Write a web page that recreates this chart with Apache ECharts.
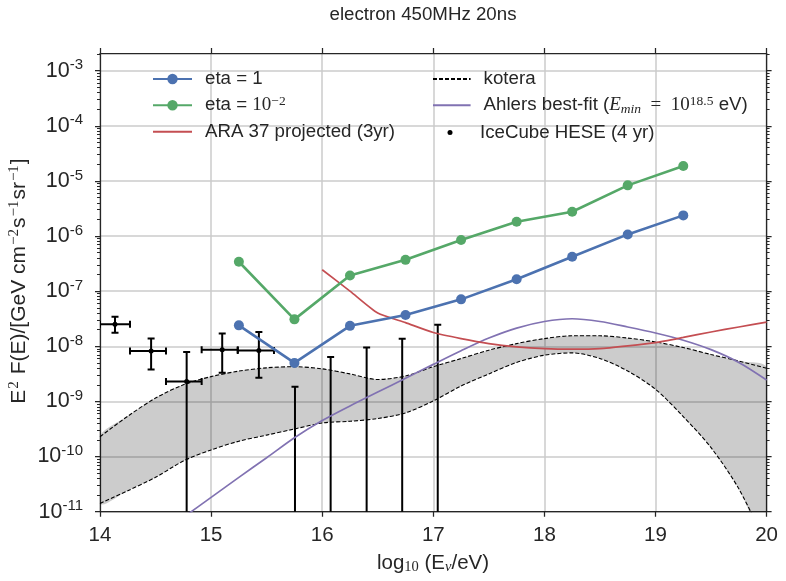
<!DOCTYPE html>
<html>
<head>
<meta charset="utf-8">
<script src="https://cdn.jsdelivr.net/npm/echarts@6/dist/echarts.min.js"></script>
<style>html,body{margin:0;padding:0;background:#fff;}#chart{width:786px;height:581px;}</style>
</head>
<body>
<div id="chart"></div>
<script>
// ---- data (energies are log10(E/eV), fluxes are E^2 F(E) in GeV cm^-2 s^-1 sr^-1) ----
const xTicks = [14, 15, 16, 17, 18, 19, 20];
const yExponents = [-11, -10, -9, -8, -7, -6, -5, -4, -3];

const etaE = [15.25, 15.75, 16.25, 16.75, 17.25, 17.75, 18.25, 18.75, 19.25];
const eta1 = [2.4e-8, 5.0e-9, 2.35e-8, 3.7e-8, 7.1e-8, 1.64e-7, 4.2e-7, 1.07e-6, 2.37e-6];
const eta2 = [3.42e-7, 3.08e-8, 1.93e-7, 3.7e-7, 8.45e-7, 1.82e-6, 2.76e-6, 8.3e-6, 1.86e-5];

const araE = [16.0, 16.25, 16.5, 16.75, 17.0, 17.25, 17.5, 17.75, 18.0, 18.25, 18.5, 18.75, 19.0, 19.25, 19.5, 19.75, 20.0];
const araFlux = [2.45e-7, 1.0e-7, 4.0e-8, 2.69e-8, 1.78e-8, 1.38e-8, 1.12e-8, 9.8e-9, 9.1e-9, 8.9e-9, 9.1e-9, 1.02e-8, 1.17e-8, 1.45e-8, 1.82e-8, 2.24e-8, 2.75e-8];

const ahlersE = [14.5, 14.75, 15.0, 15.25, 15.5, 15.75, 16.0, 16.25, 16.5, 16.75, 17.0, 17.25, 17.5, 17.75, 18.0, 18.25, 18.5, 18.75, 19.0, 19.25, 19.5, 19.75, 20.0];
const ahlersFlux = [3.5e-12, 7.9e-12, 1.82e-11, 4.2e-11, 9.5e-11, 2.19e-10, 4.5e-10, 8.3e-10, 1.48e-9, 2.63e-9, 4.7e-9, 8.3e-9, 1.41e-8, 2.14e-8, 2.82e-8, 3.16e-8, 2.82e-8, 2.24e-8, 1.74e-8, 1.29e-8, 8.7e-9, 5.1e-9, 2.45e-9];

const koteraE = [14.0, 14.25, 14.5, 14.75, 15.0, 15.25, 15.5, 15.75, 16.0, 16.25, 16.5, 16.75, 17.0, 17.25, 17.5, 17.75, 18.0, 18.25, 18.5, 18.75, 19.0, 19.25, 19.5, 19.75, 20.0];
const koteraHigh = [2.29e-10, 5.4e-10, 1.15e-9, 2.0e-9, 2.82e-9, 3.55e-9, 4.07e-9, 4.27e-9, 3.9e-9, 3.16e-9, 2.5e-9, 2.9e-9, 4.27e-9, 6.0e-9, 8.5e-9, 1.12e-8, 1.38e-8, 1.55e-8, 1.55e-8, 1.41e-8, 1.2e-8, 9.5e-9, 7.1e-9, 5.4e-9, 4.0e-9];
const koteraLow = [1.41e-11, 2.4e-11, 4.2e-11, 8.3e-11, 1.32e-10, 1.9e-10, 2.45e-10, 3.16e-10, 4.07e-10, 4.37e-10, 4.9e-10, 6.2e-10, 1.02e-9, 1.9e-9, 3.16e-9, 5.1e-9, 6.9e-9, 7.6e-9, 6.0e-9, 3.55e-9, 1.66e-9, 5.3e-10, 1.45e-10, 2.6e-11, 2.5e-12];

// IceCube HESE (4 yr): null flux = upper limit only
const heseE = [14.135, 14.46, 14.78, 15.10, 15.43, 15.755, 16.076, 16.40, 16.72, 17.04];
const heseFlux = [2.5e-8, 8.2e-9, 2.3e-9, 8.7e-9, 8.4e-9, null, null, null, null, null];
const heseHigh = [3.43e-8, 1.39e-8, 7.9e-9, 1.71e-8, 1.82e-8, 1.84e-9, 6.4e-9, 9.5e-9, 1.37e-8, 2.45e-8];
const heseLow = [1.76e-8, 3.8e-9, 0, 3.3e-9, 2.7e-9, 0, 0, 0, 0, 0];
const heseXLow = [14.0, 14.27, 14.594, 14.915, 15.24, null, null, null, null, null];
const heseXHigh = [14.27, 14.594, 14.915, 15.24, 15.566, null, null, null, null, null];

// ---- helpers ----
const lg = Math.log10;
const Y_MIN = -11, Y_MAX = -2.68;
const minorTicks = [];
for (let n = -12; n <= -3; n++) for (let k = 2; k <= 9; k++) {
  const v = n + lg(k);
  if (v > Y_MIN && v < Y_MAX) minorTicks.push(v);
}
const TXT = '#262626';
const SANS = 'Liberation Sans';
const SERIF = 'Liberation Serif';
const SMOOTH = 0.3;

const heseData = heseE.map((e, i) => {
  const has = heseFlux[i] != null;
  return [e, lg(heseHigh[i]), heseLow[i] > 0 ? lg(heseLow[i]) : -14,
          has ? lg(heseFlux[i]) : lg(heseHigh[i]),
          has ? heseXLow[i] : e, has ? heseXHigh[i] : e, has ? 1 : 0, heseLow[i] > 0 ? 1 : 0];
});
const koteraBand = koteraE.map((e, i) => [e, lg(koteraLow[i]), lg(koteraHigh[i])]);

const axisLineStyle = { color: TXT, width: 1.25 };
const legendRich = {
  t: { fontSize: 18.7, fontFamily: SANS, color: TXT, lineHeight: 22, verticalAlign: 'middle' },
  m: { fontSize: 19, fontFamily: SERIF, color: TXT, lineHeight: 22, verticalAlign: 'middle' },
  mi: { fontSize: 19, fontFamily: SERIF, fontStyle: 'italic', color: TXT, lineHeight: 22, verticalAlign: 'middle' },
  ms: { fontSize: 13.5, fontFamily: SERIF, color: TXT, lineHeight: 10, verticalAlign: 'top' },
  sub: { fontSize: 13.5, fontFamily: SERIF, fontStyle: 'italic', color: TXT, lineHeight: 13, verticalAlign: 'bottom' }
};
const legendLabels = {
  'eta = 1': '{t|eta = 1}',
  'eta = 1e-2': '{t|eta = }{m|10}{ms|−2}',
  'ARA 37 projected (3yr)': '{t|ARA 37 projected (3yr)}',
  'kotera': '{t|kotera}',
  'Ahlers': '{t|Ahlers best-fit (}{mi|E}{sub|min}{m|  =  10}{ms|18.5}{t| eV)}',
  'IceCube HESE (4 yr)': '{t|IceCube HESE (4 yr)}'
};
function mkLegend(item, left, cy, w, extra) {
  return Object.assign({
    data: [item], left: left, top: cy - 11, padding: 0, orient: 'vertical',
    itemWidth: w, itemHeight: 13, selectedMode: false,
    formatter: n => legendLabels[n],
    textStyle: { fontSize: 18.7, fontFamily: SANS, color: TXT, lineHeight: 22, padding: [0, 0, 0, 8], rich: legendRich }
  }, extra || {});
}
const noSym = { opacity: 0 };

const option = {
  animation: false,
  backgroundColor: '#fff',
  title: {
    text: 'electron 450MHz 20ns', left: 423, top: 4, padding: 0, textAlign: 'center',
    textStyle: { fontSize: 18.7, fontWeight: 'normal', fontFamily: SANS, color: TXT, lineHeight: 22 }
  },
  grid: { left: 100, right: 19.4, top: 53, bottom: 69.3 },
  legend: [
    mkLegend('eta = 1', 152, 79, 39),
    mkLegend('eta = 1e-2', 152, 105.3, 39),
    mkLegend({ name: 'ARA 37 projected (3yr)', itemStyle: noSym }, 152, 131.7, 39),
    mkLegend({ name: 'kotera', itemStyle: noSym }, 432, 79, 37.6),
    mkLegend({ name: 'Ahlers', itemStyle: noSym }, 432, 105.3, 37.6),
    mkLegend({ name: 'IceCube HESE (4 yr)', icon: 'circle' }, 447.5, 132.5, 5,
      { itemHeight: 5, textStyle: { fontSize: 18.7, fontFamily: SANS, color: TXT, lineHeight: 22, padding: [0, 0, 0, 22.5], rich: legendRich } })
  ],
  xAxis: [
    { type: 'value', min: xTicks[0], max: xTicks[xTicks.length - 1], interval: 1, position: 'bottom',
      axisLine: { show: true, onZero: false, lineStyle: axisLineStyle },
      axisTick: { show: true, length: 5, lineStyle: axisLineStyle },
      axisLabel: { fontSize: 20.5, fontFamily: SANS, color: TXT, margin: 13 },
      splitLine: { show: true, lineStyle: { color: '#cbcbcb', width: 1.5 } } },
    { type: 'value', min: xTicks[0], max: xTicks[xTicks.length - 1], interval: 1, position: 'top',
      axisLine: { show: true, onZero: false, lineStyle: axisLineStyle },
      axisTick: { show: true, length: 5, lineStyle: axisLineStyle },
      axisLabel: { show: false }, splitLine: { show: false } }
  ],
  yAxis: [
    { type: 'value', min: Y_MIN, max: Y_MAX, interval: 1, position: 'left',
      axisLine: { show: true, onZero: false, lineStyle: axisLineStyle },
      axisTick: { show: true, length: 5, lineStyle: axisLineStyle, customValues: yExponents },
      axisLabel: { customValues: yExponents, margin: 17, align: 'right', verticalAlign: 'middle',
        formatter: v => '{b|10}{s|' + Math.round(v) + '}',
        rich: {
          b: { fontSize: 21.5, fontFamily: SANS, color: TXT, lineHeight: 26, verticalAlign: 'middle' },
          s: { fontSize: 15, fontFamily: SANS, color: TXT, lineHeight: 16, verticalAlign: 'top' }
        } },
      splitLine: { show: true, lineStyle: { color: '#cbcbcb', width: 1.5 } } },
    { type: 'value', min: Y_MIN, max: Y_MAX, position: 'left',
      axisLine: { show: false }, axisLabel: { show: false }, splitLine: { show: false },
      axisTick: { show: true, length: 3, lineStyle: { color: TXT, width: 1 }, customValues: minorTicks } },
    { type: 'value', min: Y_MIN, max: Y_MAX, position: 'right',
      axisLine: { show: true, onZero: false, lineStyle: axisLineStyle }, axisLabel: { show: false }, splitLine: { show: false },
      axisTick: { show: true, length: 5, lineStyle: axisLineStyle, customValues: yExponents } },
    { type: 'value', min: Y_MIN, max: Y_MAX, position: 'right',
      axisLine: { show: false }, axisLabel: { show: false }, splitLine: { show: false },
      axisTick: { show: true, length: 3, lineStyle: { color: TXT, width: 1 }, customValues: minorTicks } }
  ],
  graphic: [
    { type: 'text', x: 433, y: 563, silent: true,
      style: { text: '{a|log}{b|10}{a| (E}{c|ν}{a|/eV)}', align: 'center', verticalAlign: 'middle',
        rich: {
          a: { fontSize: 20.5, fontFamily: SANS, fill: TXT, color: TXT, lineHeight: 24, verticalAlign: 'middle' },
          b: { fontSize: 14.5, fontFamily: SERIF, fill: TXT, color: TXT, lineHeight: 14, verticalAlign: 'bottom' },
          c: { fontSize: 14.5, fontFamily: SERIF, fontStyle: 'italic', fill: TXT, color: TXT, lineHeight: 14, verticalAlign: 'bottom' }
        } } },
    { type: 'text', x: 19, y: 281, rotation: Math.PI / 2, silent: true,
      style: { text: '{a|E}{s|2}{a| F(E)/[GeV cm}{s|−2}{a|s}{s|−1}{a|sr}{s|−1}{a|]}', align: 'center', verticalAlign: 'middle',
        rich: {
          a: { fontSize: 21, fontFamily: SANS, fill: TXT, color: TXT, lineHeight: 24, verticalAlign: 'middle' },
          s: { fontSize: 15, fontFamily: SERIF, fill: TXT, color: TXT, lineHeight: 12, verticalAlign: 'top', padding: [0, 1, 0, 1] }
        } } }
  ],
  series: [
    { type: 'custom', name: 'koteraBand', data: koteraBand, clip: true, silent: true, encode: { x: 0, y: [1, 2] },
      renderItem: function (params, api) {
        if (params.dataIndex !== 0) return null;
        const up = koteraBand.map(d => api.coord([d[0], d[2]]));
        const lo = koteraBand.map(d => api.coord([d[0], d[1]])).reverse();
        return { type: 'polygon', shape: { points: up.concat(lo), smooth: SMOOTH },
          style: { fill: 'rgba(0,0,0,0.2)', stroke: null } };
      } },
    { type: 'line', name: 'koteraLow', data: koteraBand.map(d => [d[0], d[1]]),
      symbol: 'none', smooth: SMOOTH, silent: true,
      lineStyle: { color: '#000', width: 1.1, type: [4, 2] } },
    { type: 'line', name: 'kotera', data: koteraBand.map(d => [d[0], d[2]]),
      symbol: 'none', smooth: SMOOTH, silent: true, itemStyle: { color: '#000' },
      lineStyle: { color: '#000', width: 1.1, type: [4, 2] } },
    { type: 'custom', name: 'IceCube HESE (4 yr)', data: heseData, clip: true, encode: { x: 0, y: 1 },
      itemStyle: { color: '#000' },
      renderItem: function (params, api) {
        const x = api.value(0), yHi = api.value(1), yLo = api.value(2), yC = api.value(3);
        const xLo = api.value(4), xHi = api.value(5), hasC = api.value(6), hasLo = api.value(7);
        const st = { stroke: '#000', lineWidth: 2 };
        const top = api.coord([x, yHi]), bot = api.coord([x, yLo]);
        const ch = [
          { type: 'line', shape: { x1: top[0], y1: top[1], x2: bot[0], y2: bot[1] }, style: st },
          { type: 'line', shape: { x1: top[0] - 3.5, y1: top[1], x2: top[0] + 3.5, y2: top[1] }, style: st }
        ];
        if (hasLo) ch.push({ type: 'line', shape: { x1: bot[0] - 3.5, y1: bot[1], x2: bot[0] + 3.5, y2: bot[1] }, style: st });
        if (hasC) {
          const c = api.coord([x, yC]), l = api.coord([xLo, yC]), r = api.coord([xHi, yC]);
          ch.push({ type: 'line', shape: { x1: l[0], y1: l[1], x2: r[0], y2: r[1] }, style: st });
          ch.push({ type: 'line', shape: { x1: l[0], y1: l[1] - 3.5, x2: l[0], y2: l[1] + 3.5 }, style: st });
          ch.push({ type: 'line', shape: { x1: r[0], y1: r[1] - 3.5, x2: r[0], y2: r[1] + 3.5 }, style: st });
          ch.push({ type: 'circle', shape: { cx: c[0], cy: c[1], r: 2.5 }, style: { fill: '#000' } });
        }
        return { type: 'group', children: ch };
      } },
    { type: 'line', name: 'Ahlers', data: ahlersE.map((e, i) => [e, lg(ahlersFlux[i])]),
      symbol: 'none', smooth: SMOOTH, itemStyle: { color: '#8172b2' },
      lineStyle: { color: '#8172b2', width: 1.7 } },
    { type: 'line', name: 'ARA 37 projected (3yr)', data: araE.map((e, i) => [e, lg(araFlux[i])]),
      symbol: 'none', smooth: 0.2, itemStyle: { color: '#c44e52' },
      lineStyle: { color: '#c44e52', width: 1.7 } },
    { type: 'line', name: 'eta = 1', data: etaE.map((e, i) => [e, lg(eta1[i])]),
      symbol: 'circle', symbolSize: 10, itemStyle: { color: '#4c72b0' },
      lineStyle: { color: '#4c72b0', width: 2.6 } },
    { type: 'line', name: 'eta = 1e-2', data: etaE.map((e, i) => [e, lg(eta2[i])]),
      symbol: 'circle', symbolSize: 10, itemStyle: { color: '#55a868' },
      lineStyle: { color: '#55a868', width: 2.6 } }
  ]
};
const chart = echarts.init(document.getElementById('chart'), null, { renderer: 'canvas' });
chart.setOption(option);
</script>
</body>
</html>
